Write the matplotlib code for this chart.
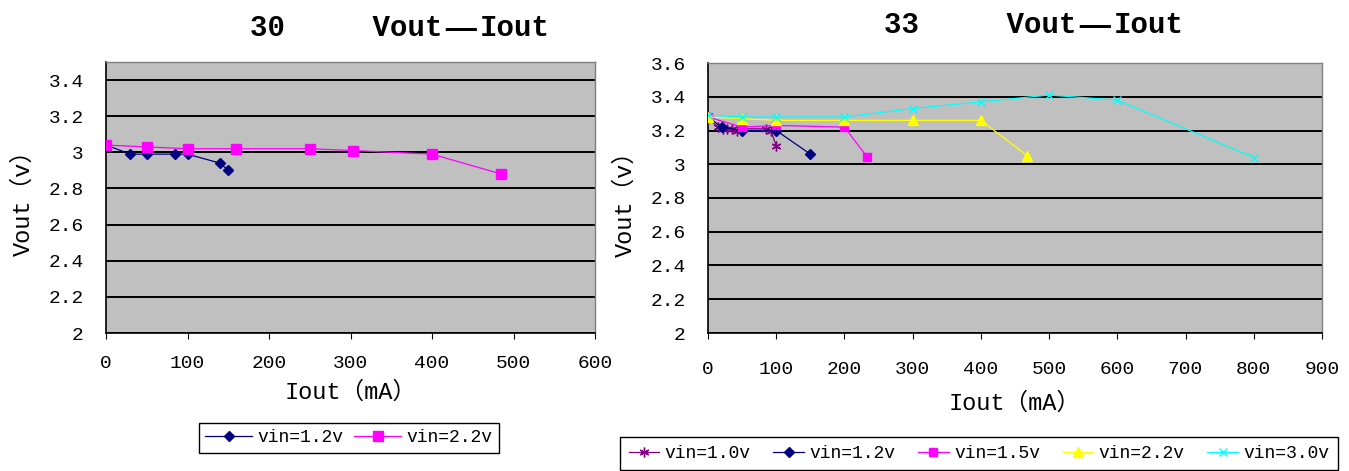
import matplotlib
matplotlib.use("Agg")
import matplotlib.pyplot as plt
from matplotlib.ticker import FuncFormatter, MultipleLocator

# ---------------- data ----------------
# left chart ("30")
l_x_12 = [0, 30, 50, 85, 100, 140, 150]
l_v_12 = [3.04, 2.99, 2.99, 2.99, 2.99, 2.94, 2.90]
l_x_22 = [0, 50, 100, 160, 250, 303, 400, 485]
l_v_22 = [3.04, 3.03, 3.02, 3.02, 3.02, 3.01, 2.99, 2.88]
left_labels = ["vin=1.2v", "vin=2.2v"]

# right chart ("33")
r_x_10 = [0, 15, 22, 28, 35, 42, 50, 85, 92, 100]
r_v_10 = [3.27, 3.22, 3.21, 3.21, 3.21, 3.20, 3.21, 3.21, 3.20, 3.11]
r_x_12 = [0, 20, 50, 100, 150]
r_v_12 = [3.28, 3.22, 3.20, 3.20, 3.06]
r_x_15 = [0, 50, 100, 200, 233]
r_v_15 = [3.28, 3.22, 3.23, 3.22, 3.045]
r_x_22 = [0, 50, 100, 200, 300, 400, 468]
r_v_22 = [3.28, 3.27, 3.26, 3.26, 3.26, 3.26, 3.05]
r_x_30 = [0, 50, 100, 200, 300, 400, 500, 600, 800]
r_v_30 = [3.29, 3.28, 3.28, 3.28, 3.33, 3.37, 3.41, 3.38, 3.04]
right_labels = ["vin=1.0v", "vin=1.2v", "vin=1.5v", "vin=2.2v", "vin=3.0v"]

W, H = 1349, 471
MONO = ["Liberation Mono", "Noto Sans CJK SC"]

fig = plt.figure(figsize=(W / 100, H / 100), dpi=100)
fig.patch.set_facecolor("white")

ax1 = fig.add_axes([106 / W, 1 - 333 / H, 489 / W, (333 - 62) / H])
ax2 = fig.add_axes([708 / W, 1 - 333 / H, 614 / W, (333 - 63) / H])

fmt = FuncFormatter(lambda v, p: f"{v:g}")


def style(ax, xmax, xstep, ymax, xpad, xlabpad):
    ax.set_facecolor("#c0c0c0")
    ax.set_xlim(0, xmax)
    ax.set_ylim(2, ymax)
    ax.xaxis.set_major_locator(MultipleLocator(xstep))
    ax.yaxis.set_major_locator(MultipleLocator(0.2))
    ax.yaxis.set_major_formatter(fmt)
    ax.xaxis.set_major_formatter(fmt)
    ax.yaxis.grid(True, color="black", lw=1.4)
    ax.set_axisbelow(True)
    for s in ("top", "right"):
        ax.spines[s].set_color("#808080")
        ax.spines[s].set_linewidth(1.0)
    for s in ("left", "bottom"):
        ax.spines[s].set_color("black")
        ax.spines[s].set_linewidth(1.2)
    ax.tick_params(axis="y", length=0, pad=16, labelsize=14)
    ax.tick_params(axis="x", length=4, pad=xpad, labelsize=14)
    for lab in ax.get_xticklabels() + ax.get_yticklabels():
        lab.set_fontfamily(MONO)
    ax.set_xlabel("Iout（mA）", fontsize=17, family=MONO, labelpad=xlabpad)
    ax.set_ylabel("Vout（v）", fontsize=17, family=MONO, labelpad=10)


style(ax1, 600, 100, 3.5, 12, 6)
style(ax2, 900, 100, 3.6, 16, 10)
ax1.set_yticks([2, 2.2, 2.4, 2.6, 2.8, 3.0, 3.2, 3.4])

# left series
ax1.plot(l_x_12, l_v_12, color="#000080", lw=0.9, marker="D", ms=5,
         label=left_labels[0], zorder=3)
ax1.plot(l_x_22, l_v_22, color="#FF00FF", lw=0.9, marker="s", ms=6.5,
         label=left_labels[1], zorder=3)

# right series
ax2.plot(r_x_10, r_v_10, color="#800080", lw=0.9, marker=(6, 2, 0), ms=7,
         mew=1.0, label=right_labels[0], zorder=3)
ax2.plot(r_x_12, r_v_12, color="#000080", lw=0.9, marker="D", ms=5,
         label=right_labels[1], zorder=3)
ax2.plot(r_x_15, r_v_15, color="#FF00FF", lw=0.9, marker="s", ms=6,
         label=right_labels[2], zorder=3)
ax2.plot(r_x_22, r_v_22, color="#FFFF00", lw=0.9, marker="^", ms=7,
         label=right_labels[3], zorder=3)
ax2.plot(r_x_30, r_v_30, color="#00FFFF", lw=0.9, marker="x", ms=6,
         mew=1.0, label=right_labels[4], zorder=3)

common = dict(frameon=True, fancybox=False, shadow=False, edgecolor="black",
              facecolor="white", framealpha=1, borderaxespad=0,
              prop={"family": MONO, "size": 13})
lg1 = fig.legend(handles=ax1.get_lines(), labels=left_labels, ncol=2,
                 loc="center", bbox_to_anchor=(349 / W, 1 - 438 / H),
                 handlelength=2.6, handletextpad=0.3, columnspacing=0.6,
                 borderpad=0.35, **common)
lg1.get_frame().set_linewidth(1.0)
lg2 = fig.legend(handles=ax2.get_lines(), labels=right_labels, ncol=5,
                 loc="upper center", bbox_to_anchor=(979 / W, 1 - 437 / H),
                 handlelength=1.7, handletextpad=0.3, columnspacing=1.25,
                 borderpad=0.45, **common)
lg2.get_frame().set_linewidth(1.0)

# titles built from pieces so the dash is full width
renderer = fig.canvas.get_renderer()


def title(x_px, y_px, left, dash, right):
    kw = dict(va="baseline", ha="left")
    t1 = fig.text(x_px / W, 1 - y_px / H, left, family=MONO, fontsize=21,
                  fontweight="bold", **kw)
    bb = t1.get_window_extent(renderer)
    t2 = fig.text(bb.x1 / W + 1 / W, 1 - (y_px + 5) / H, dash,
                  family=["Noto Sans CJK SC"], fontsize=28,
                  fontweight="normal", **kw)
    bb2 = t2.get_window_extent(renderer)
    fig.text(bb2.x1 / W + 1 / W, 1 - y_px / H, right, family=MONO,
             fontsize=21, fontweight="bold", **kw)


title(250, 36, "30     Vout", "—", "Iout")
title(884, 33, "33     Vout", "—", "Iout")

fig.savefig("out.png", dpi=100, facecolor="white")
